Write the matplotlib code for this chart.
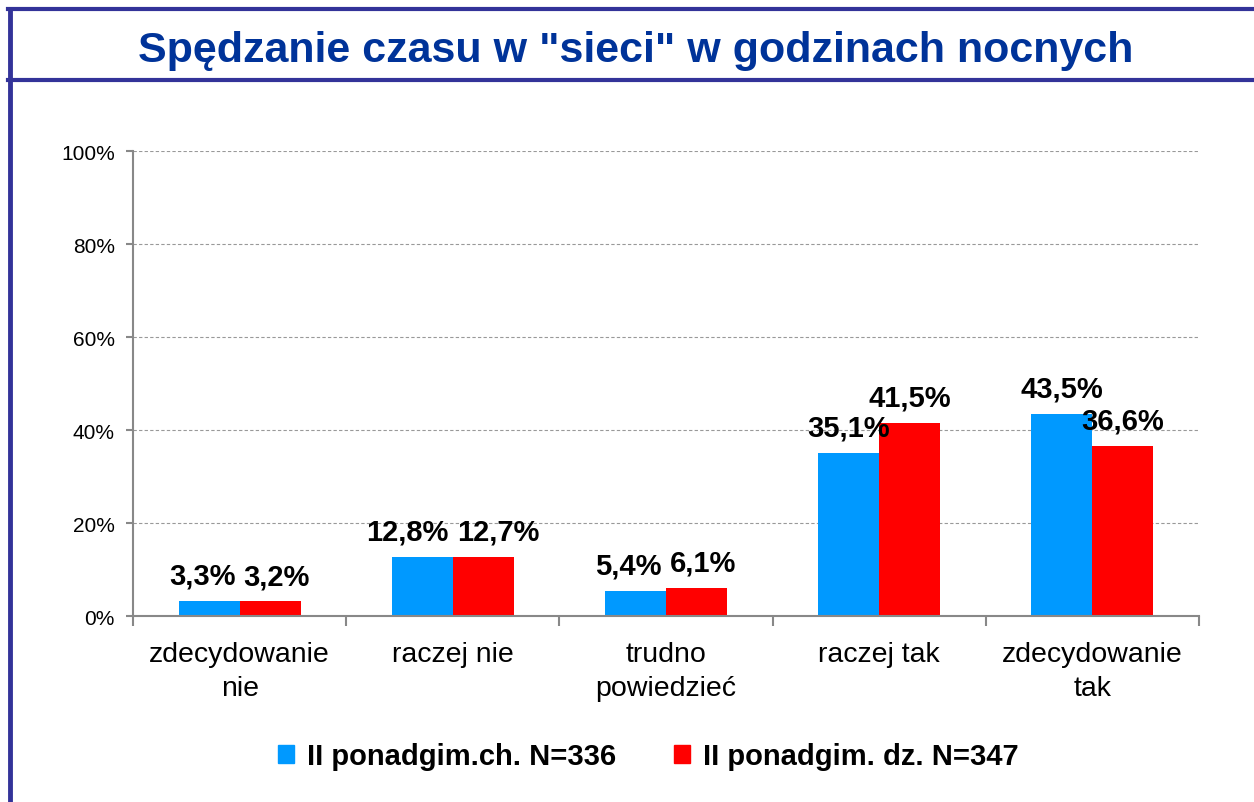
import matplotlib.pyplot as plt
from matplotlib.lines import Line2D
from matplotlib.patches import Patch
import numpy as np

plt.rcParams['font.family'] = ['Liberation Sans', 'DejaVu Sans']

categories = ["zdecydowanie\nnie", "raczej nie", "trudno\npowiedzieć", "raczej tak", "zdecydowanie\ntak"]
boys = [3.3, 12.8, 5.4, 35.1, 43.5]
girls = [3.2, 12.7, 6.1, 41.5, 36.6]
series_names = ["II ponadgim.ch. N=336", "II ponadgim. dz. N=347"]
title = 'Spędzanie czasu w "sieci" w godzinach nocnych'

blue = "#0099FF"
red = "#FF0000"
frame = "#333399"

fig = plt.figure(figsize=(12.54, 8.03), dpi=100)
ax = fig.add_axes([0.1061, 0.2316, 0.8500, 0.5791])

x = np.arange(len(categories))
w = 0.286
b1 = ax.bar(x - w/2, boys, w, color=blue, edgecolor="none")
b2 = ax.bar(x + w/2, girls, w, color=red, edgecolor="none")

def fmt(v):
    return ("%.1f%%" % v).replace(".", ",")

labels = []
for bars, vals in ((b1, boys), (b2, girls)):
    row = []
    for r, v in zip(bars, vals):
        a = ax.annotate(fmt(v), (r.get_x() + r.get_width()/2, v), xytext=(0, 8),
                        textcoords="offset points", ha="center", va="bottom",
                        fontsize=21, fontweight="bold")
        row.append(a)
    labels.append(row)

ax.set_xlim(-0.5, len(categories) - 0.5)
ax.set_ylim(0, 100)
ax.set_yticks(range(0, 101, 20))
ax.set_yticklabels(["%d%%" % t for t in range(0, 101, 20)], fontsize=15)
ax.set_xticks(x)
ax.set_xticklabels(categories, fontsize=20.5, linespacing=1.4)
ax.set_xticks(np.arange(-0.5, len(categories)), minor=True)
ax.tick_params(axis="x", which="major", length=0, pad=18)
ax.tick_params(axis="x", which="minor", length=7, width=1.5, color="#888888", direction="out")
ax.tick_params(axis="y", length=5, width=1.5, color="#888888", pad=8)

for t in range(20, 101, 20):
    ax.axhline(t, color="#999999", lw=0.8, ls=(0, (3, 2)), zorder=0)

for s in ("top", "right"):
    ax.spines[s].set_visible(False)
for s in ("left", "bottom"):
    ax.spines[s].set_color("#888888")
    ax.spines[s].set_linewidth(1.5)

# push apart value labels that collide (like Excel does)
fig.canvas.draw()
rend = fig.canvas.get_renderer()
for la, lb in zip(labels[0], labels[1]):
    ea = la.get_window_extent(rend)
    eb = lb.get_window_extent(rend)
    overlap_y = ea.y0 < eb.y1 and eb.y0 < ea.y1
    gap = eb.x0 - ea.x1
    if overlap_y and gap < 8:
        d = (8 - gap) / 2 * 72 / fig.dpi
        la.xyann = (-d, la.xyann[1])
        lb.xyann = (d, lb.xyann[1])

# title band and frame
fig.text(0.507, 0.937, title, ha="center", va="center", fontsize=31,
         fontweight="bold", color="#003399")
fig.add_artist(Line2D([0.0064, 1.0], [1 - 10/803, 1 - 10/803], color=frame, lw=3))
fig.add_artist(Line2D([0.0064, 1.0], [1 - 81/803, 1 - 81/803], color=frame, lw=3))
fig.add_artist(Line2D([0.0080, 0.0080], [0.0, 1 - 10/803], color=frame, lw=3.5))

handles = [Patch(color=blue), Patch(color=red)]
fig.legend(handles, series_names, loc="center", bbox_to_anchor=(0.517, 0.057),
           ncol=2, frameon=False, prop={"size": 21, "weight": "bold"},
           handlelength=0.55, handleheight=0.55, handletextpad=0.45, columnspacing=2.0)

fig.savefig("out.png", dpi=100)
